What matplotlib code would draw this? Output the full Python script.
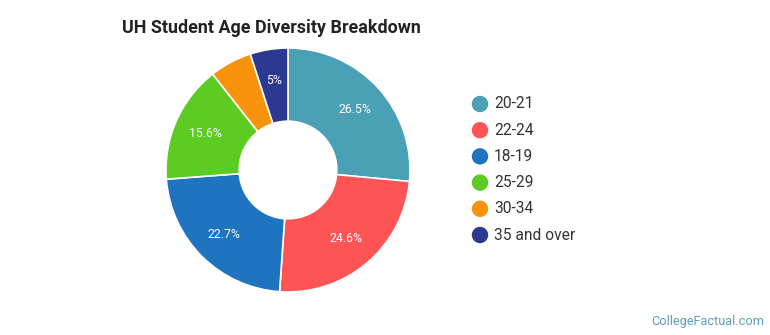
import matplotlib
matplotlib.use("Agg")
import matplotlib.pyplot as plt
import numpy as np

plt.rcParams['font.family'] = ['Roboto', 'DejaVu Sans']

categories = ["20-21", "22-24", "18-19", "25-29", "30-34", "35 and over"]
values = [26.5, 24.6, 22.7, 15.6, 5.6, 5.0]
labels = ["26.5%", "24.6%", "22.7%", "15.6%", "", "5%"]
colors = ["#4aa0b4", "#fe5455", "#1f74bf", "#5ccb22", "#f8930b", "#2b3990"]

W, H = 770, 335
fig = plt.figure(figsize=(W / 100, H / 100), dpi=100)

# pie axes: center (288,170) px from top, radius 122 px
cx, cy, R = 288, 170, 122
half = 130
ax = fig.add_axes([(cx - half) / W, (H - cy - half) / H, 2 * half / W, 2 * half / H])
wedges, _ = ax.pie(values, colors=colors, startangle=90, counterclock=False,
                   radius=1.0, wedgeprops=dict(width=0.6, edgecolor="white", linewidth=1.2))
lim = half / R
ax.set_xlim(-lim, lim)
ax.set_ylim(-lim, lim)
ax.set_aspect("equal")
ax.axis("off")

# slice labels
start = 90.0
total = sum(values)
for v, lab in zip(values, labels):
    ang = start - v / total * 360 / 2
    start -= v / total * 360
    if lab:
        r = 0.74
        ax.text(r * np.cos(np.radians(ang)), r * np.sin(np.radians(ang)), lab,
                ha="center", va="center", color="white", fontsize=8.8)

# title
fig.text(122 / W, 1 - 28 / H, "UH Student Age Diversity Breakdown", fontsize=12.9,
         fontweight="bold", color="#222222", ha="left", va="center")

# legend
ly0, dy = 104, 26.2
for i, (c, cat) in enumerate(zip(colors, categories)):
    y = 1 - (ly0 + i * dy) / H
    fig.patches.append(matplotlib.patches.Ellipse((480 / W, y), 15 / W, 15 / H,
                                                  transform=fig.transFigure, color=c))
    fig.text(494 / W, y, cat, fontsize=11.2, color="#333333", ha="left", va="center")

# watermark
fig.text(764 / W, 1 - 321 / H, "CollegeFactual.com", fontsize=9.2, color="#5b9fb8",
         ha="right", va="center")

fig.savefig("out.png", dpi=100)
